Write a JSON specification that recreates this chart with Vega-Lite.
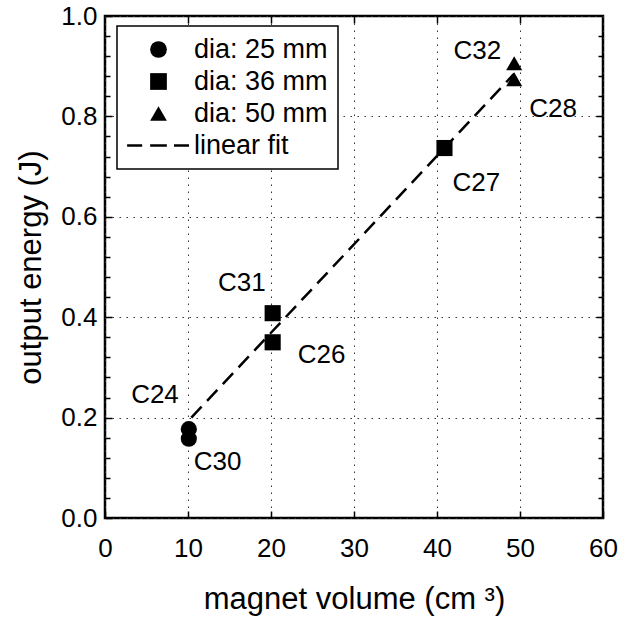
{
  "$schema": "https://vega.github.io/schema/vega-lite/v6.json",
  "width": 498,
  "height": 502,
  "autosize": {"type": "none"},
  "padding": {"left": 105, "top": 16, "right": 28, "bottom": 101},
  "datasets": {
    "pts": [
      {"label": "C24", "volume": 10.1, "energy": 0.177, "series": "dia: 25 mm"},
      {"label": "C30", "volume": 10.1, "energy": 0.158, "series": "dia: 25 mm"},
      {"label": "C31", "volume": 20.2, "energy": 0.408, "series": "dia: 36 mm"},
      {"label": "C26", "volume": 20.2, "energy": 0.350, "series": "dia: 36 mm"},
      {"label": "C27", "volume": 40.9, "energy": 0.737, "series": "dia: 36 mm"},
      {"label": "C32", "volume": 49.3, "energy": 0.906, "series": "dia: 50 mm"},
      {"label": "C28", "volume": 49.3, "energy": 0.874, "series": "dia: 50 mm"}
    ],
    "fit": [
      {"volume": 10.4, "energy": 0.2},
      {"volume": 49.3, "energy": 0.885}
    ]
  },
  "config": {
    "font": "Liberation Sans",
    "view": {"stroke": "black", "strokeWidth": 2.5},
    "axis": {
      "labelFont": "Liberation Sans",
      "titleFont": "Liberation Sans",
      "labelColor": "black",
      "titleColor": "black",
      "titleFontWeight": "normal",
      "tickColor": "black",
      "domain": false,
      "labelFlush": false
    },
    "legend": {"strokeWidth": 1.5},
    "text": {"font": "Liberation Sans", "fontSize": 26, "color": "black"}
  },
  "resolve": {"axis": {"x": "independent", "y": "independent"}},
  "layer": [
    {
      "data": {"name": "pts"},
      "mark": {"type": "point", "filled": true, "size": 260, "color": "black", "opacity": 1},
      "encoding": {
        "x": {
          "field": "volume", "type": "quantitative",
          "scale": {"domain": [0, 60], "nice": false, "zero": false},
          "axis": {
            "orient": "bottom", "values": [0, 10, 20, 30, 40, 50, 60], "format": "d",
            "labelFontSize": 26, "labelPadding": 24, "tickSize": -7, "tickWidth": 1.5,
            "grid": true, "gridDash": [1.5, 5.5], "gridColor": "#333", "gridWidth": 1,
            "title": "magnet volume (cm ³)", "titleFontSize": 31, "titlePadding": 23
          }
        },
        "y": {
          "field": "energy", "type": "quantitative",
          "scale": {"domain": [0, 1], "nice": false, "zero": false},
          "axis": {
            "orient": "left", "values": [0, 0.2, 0.4, 0.6, 0.8, 1.0], "format": ".1f",
            "labelFontSize": 26, "labelPadding": 15, "tickSize": -7, "tickWidth": 1.5,
            "grid": true, "gridDash": [1.5, 5.5], "gridColor": "#333", "gridWidth": 1,
            "title": "output energy (J)", "titleFontSize": 31, "titlePadding": 13
          }
        },
        "shape": {
          "field": "series", "type": "nominal",
          "scale": {
            "domain": ["dia: 25 mm", "dia: 36 mm", "dia: 50 mm", "linear fit"],
            "range": ["circle", "square", "triangle-up", "M-3.75,-0.15H-1.95V0.15H-3.75ZM-1,-0.15H1V0.15H-1ZM1.85,-0.15H3.65V0.15H1.85Z"]
          },
          "legend": {
            "orient": "none", "legendX": 12, "legendY": 10, "title": null,
            "padding": 10, "strokeColor": "black", "fillColor": "white",
            "labelFontSize": 27, "labelColor": "black", "labelFont": "Liberation Sans",
            "labelExpr": "datum.label + '\u2002\u2009'",
            "symbolSize": 280, "symbolFillColor": "black", "symbolStrokeWidth": 0,
            "symbolOffset": 18, "labelOffset": 22, "rowPadding": 4
          }
        }
      }
    },
    {
      "data": {"name": "fit"},
      "mark": {"type": "line", "color": "black", "strokeWidth": 2.5, "strokeDash": [15, 8]},
      "encoding": {
        "x": {
          "field": "volume", "type": "quantitative",
          "axis": {"orient": "top", "values": [10, 20, 30, 40, 50], "labels": false, "tickSize": -7, "tickWidth": 1.5, "grid": false, "title": null}
        },
        "y": {
          "field": "energy", "type": "quantitative",
          "axis": {"orient": "right", "values": [0.2, 0.4, 0.6, 0.8], "labels": false, "tickSize": -7, "tickWidth": 1.5, "grid": false, "title": null}
        }
      }
    },
    {
      "data": {"name": "pts"},
      "transform": [{"filter": "datum.label === 'C24'"}],
      "mark": {"type": "text", "align": "right", "baseline": "middle", "dx": -10, "dy": -34},
      "encoding": {
        "x": {"field": "volume", "type": "quantitative", "axis": null},
        "y": {
          "field": "energy", "type": "quantitative",
          "axis": {"orient": "left", "values": [0.04, 0.08, 0.12, 0.16, 0.24, 0.28, 0.32, 0.36, 0.44, 0.48, 0.52, 0.56, 0.64, 0.68, 0.72, 0.76, 0.84, 0.88, 0.92, 0.96], "labels": false, "tickSize": -5, "tickWidth": 1.5, "grid": false, "title": null}
        },
        "text": {"field": "label"}
      }
    },
    {
      "data": {"name": "pts"},
      "transform": [{"filter": "datum.label === 'C30'"}],
      "mark": {"type": "text", "align": "left", "baseline": "middle", "dx": 5, "dy": 23},
      "encoding": {
        "x": {"field": "volume", "type": "quantitative", "axis": null},
        "y": {
          "field": "energy", "type": "quantitative",
          "axis": {"orient": "right", "values": [0.04, 0.08, 0.12, 0.16, 0.24, 0.28, 0.32, 0.36, 0.44, 0.48, 0.52, 0.56, 0.64, 0.68, 0.72, 0.76, 0.84, 0.88, 0.92, 0.96], "labels": false, "tickSize": -5, "tickWidth": 1.5, "grid": false, "title": null}
        },
        "text": {"field": "label"}
      }
    },
    {
      "data": {"name": "pts"},
      "transform": [{"filter": "datum.label === 'C31'"}],
      "mark": {"type": "text", "align": "right", "baseline": "middle", "dx": -7, "dy": -30},
      "encoding": {
        "x": {"field": "volume", "type": "quantitative", "axis": null},
        "y": {"field": "energy", "type": "quantitative", "axis": null},
        "text": {"field": "label"}
      }
    },
    {
      "data": {"name": "pts"},
      "transform": [{"filter": "datum.label === 'C26'"}],
      "mark": {"type": "text", "align": "left", "baseline": "middle", "dx": 25, "dy": 13},
      "encoding": {
        "x": {"field": "volume", "type": "quantitative", "axis": null},
        "y": {"field": "energy", "type": "quantitative", "axis": null},
        "text": {"field": "label"}
      }
    },
    {
      "data": {"name": "pts"},
      "transform": [{"filter": "datum.label === 'C27'"}],
      "mark": {"type": "text", "align": "left", "baseline": "middle", "dx": 8, "dy": 35},
      "encoding": {
        "x": {"field": "volume", "type": "quantitative", "axis": null},
        "y": {"field": "energy", "type": "quantitative", "axis": null},
        "text": {"field": "label"}
      }
    },
    {
      "data": {"name": "pts"},
      "transform": [{"filter": "datum.label === 'C32'"}],
      "mark": {"type": "text", "align": "right", "baseline": "middle", "dx": -13, "dy": -12},
      "encoding": {
        "x": {"field": "volume", "type": "quantitative", "axis": null},
        "y": {"field": "energy", "type": "quantitative", "axis": null},
        "text": {"field": "label"}
      }
    },
    {
      "data": {"name": "pts"},
      "transform": [{"filter": "datum.label === 'C28'"}],
      "mark": {"type": "text", "align": "left", "baseline": "middle", "dx": 15, "dy": 30},
      "encoding": {
        "x": {"field": "volume", "type": "quantitative", "axis": null},
        "y": {"field": "energy", "type": "quantitative", "axis": null},
        "text": {"field": "label"}
      }
    }
  ]
}
